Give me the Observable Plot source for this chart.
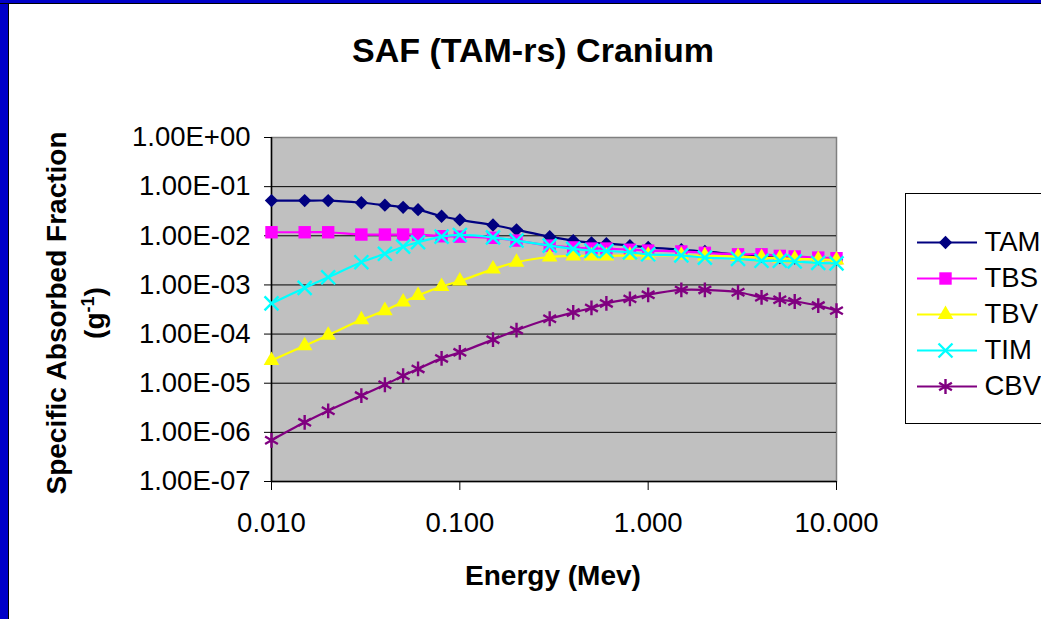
<!DOCTYPE html>
<html>
<head>
<meta charset="utf-8">
<script src="https://cdn.jsdelivr.net/npm/d3@7"></script>
<script src="https://cdn.jsdelivr.net/npm/@observablehq/plot@0.6"></script>
<style>
  html, body { margin: 0; padding: 0; background: #fff; overflow: hidden; }
  #wrap { position: relative; width: 1041px; height: 619px; font-family: "Liberation Sans", Arial, sans-serif; color: #000; overflow: hidden; }
  #bandL { position: absolute; left: 0; top: 0; width: 8px; height: 619px; background: #0000C8; border-right: 1px solid #000; }
  #bandT { position: absolute; left: 0; top: 0; width: 1041px; height: 3px; background: #0000C8; border-bottom: 1px solid #000; }
  #title { position: absolute; left: 533px; top: 50px; transform: translate(-50%, -50%); font-weight: bold; font-size: 34px; white-space: nowrap; }
  #xlabel { position: absolute; left: 553px; top: 576px; transform: translate(-50%, -50%); font-weight: bold; font-size: 28px; white-space: nowrap; }
  #ylabel { position: absolute; left: 76px; top: 313px; transform: translate(-50%, -50%) rotate(-90deg); font-weight: bold; font-size: 28px; white-space: nowrap; text-align: center; line-height: 38px; }
  #ylabel sup { font-size: 18px; line-height: 0; }
  #chart { position: absolute; left: 0; top: 0; width: 1041px; }
  #legend { position: absolute; left: 905px; top: 193px; width: 160px; }
  #legend svg, #chart svg { max-width: none !important; }
</style>
</head>
<body>
<div id="wrap">
  <div id="chart"></div>
  <div id="bandL"></div>
  <div id="bandT"></div>
  <div id="title">SAF (TAM-rs) Cranium</div>
  <div id="xlabel">Energy (Mev)</div>
  <div id="ylabel">Specific Absorbed Fraction<br>(g<sup>-1</sup>)</div>
  <div id="legend"></div>
</div>
<script>
// ---- data ----
const energies = [0.01,0.015,0.02,0.03,0.04,0.05,0.06,0.08,0.1,0.15,0.2,0.3,0.4,0.5,0.6,0.8,1,1.5,2,3,4,5,6,8,10];
const TAM = [0.052,0.052,0.052,0.047,0.042,0.038,0.034,0.025,0.021,0.0166,0.0132,0.0096,0.0080,0.0072,0.0069,0.0063,0.0058,0.0052,0.0048,0.0041,0.0038,0.0036,0.0035,0.0034,0.0033];
const TBS = [0.0118,0.0118,0.0118,0.0106,0.0106,0.0106,0.0106,0.0098,0.0096,0.0091,0.0080,0.0063,0.0058,0.0055,0.0055,0.0052,0.0050,0.0048,0.0045,0.0042,0.0042,0.0039,0.0038,0.0036,0.0035];
const TBV = [2.9e-5,5.8e-5,9.5e-5,1.95e-4,3.0e-4,4.5e-4,6.1e-4,9.3e-4,1.2e-3,2.1e-3,2.9e-3,3.7e-3,3.9e-3,3.9e-3,3.9e-3,4.0e-3,4.0e-3,4.0e-3,3.9e-3,3.8e-3,3.6e-3,3.5e-3,3.4e-3,3.3e-3,3.2e-3];
const TIM = [4.2e-4,8.7e-4,1.43e-3,2.9e-3,4.3e-3,6.0e-3,7.4e-3,9.6e-3,1.04e-2,9.3e-3,8.0e-3,6.3e-3,5.4e-3,5.0e-3,4.9e-3,4.6e-3,4.2e-3,4.0e-3,3.6e-3,3.4e-3,3.1e-3,3.1e-3,3.0e-3,2.8e-3,2.75e-3];
const CBV = [6.9e-7,1.6e-6,2.75e-6,5.6e-6,9.3e-6,1.42e-5,1.95e-5,3.2e-5,4.25e-5,7.7e-5,1.2e-4,2.05e-4,2.75e-4,3.4e-4,4.2e-4,5.2e-4,6.3e-4,7.9e-4,7.9e-4,7.1e-4,5.6e-4,5.0e-4,4.6e-4,3.8e-4,3.0e-4];

const seriesNames = ["TAM","TBS","TBV","TIM","CBV"];
const seriesValues = [TAM, TBS, TBV, TIM, CBV];
const seriesColors = ["#000080","#FF00FF","#FFFF00","#00FFFF","#800080"];
const seriesSymbols = ["diamond2","square","triangle","times","asterisk"];
const seriesSizes = [6.0, 7.0, 5.8, 6.4, 7.0];

const xTicks = [0.01, 0.1, 1, 10];
const xTickLabels = ["0.010","0.100","1.000","10.000"];
const yTicks = [1, 1e-1, 1e-2, 1e-3, 1e-4, 1e-5, 1e-6, 1e-7];
const yTickLabels = ["1.00E+00","1.00E-01","1.00E-02","1.00E-03","1.00E-04","1.00E-05","1.00E-06","1.00E-07"];

// ---- build ----
const FONT = "'Liberation Sans', Arial, sans-serif";
const filled = s => s === "diamond2" || s === "square" || s === "triangle";
const labelFor = (ticks, labels) => d => labels[ticks.findIndex(t => Math.abs(Math.log10(t) - Math.log10(d)) < 1e-6)];

const seriesMarks = [];
seriesNames.forEach((name, k) => {
  const rows = energies.map((e, i) => ({energy: e, value: seriesValues[k][i], series: name}));
  seriesMarks.push(Plot.line(rows, {x: "energy", y: "value", stroke: seriesColors[k], strokeWidth: 2.2, curve: "catmull-rom"}));
  if (filled(seriesSymbols[k])) {
    seriesMarks.push(Plot.dot(rows, {x: "energy", y: "value", symbol: seriesSymbols[k], r: seriesSizes[k], fill: seriesColors[k], stroke: "none"}));
  } else {
    seriesMarks.push(Plot.dot(rows, {x: "energy", y: "value", symbol: seriesSymbols[k], r: seriesSizes[k], stroke: seriesColors[k], strokeWidth: 2.4, fill: "none"}));
  }
});

const chart = Plot.plot({
  width: 1041, height: 619,
  marginLeft: 271, marginRight: 205, marginTop: 137, marginBottom: 138,
  style: {background: "transparent", fontFamily: FONT, fontSize: "27.5px", color: "#000", overflow: "visible"},
  x: {type: "log", domain: [0.01, 10]},
  y: {type: "log", domain: [1e-7, 1]},
  marks: [
    Plot.frame({fill: "#C0C0C0", stroke: "#808080", strokeWidth: 1.5}),
    Plot.ruleY(yTicks.slice(1, -1), {stroke: "#000", strokeWidth: 1}),
    Plot.ruleX([0.01], {stroke: "#000", strokeWidth: 1.5}),
    Plot.ruleY([1e-7], {stroke: "#000", strokeWidth: 1.5}),
    Plot.axisY({ticks: yTicks, tickFormat: labelFor(yTicks, yTickLabels), tickSize: 7, tickPadding: 14, label: null, fontSize: 27.5}),
    Plot.axisX({ticks: xTicks, tickFormat: labelFor(xTicks, xTickLabels), tickSize: 9, tickPadding: 22, label: null, fontSize: 27.5}),
    ...seriesMarks
  ]
});
document.getElementById("chart").appendChild(chart);

// ---- legend ----
const legendRows = seriesNames.map((name, k) => ({name, color: seriesColors[k], symbol: seriesSymbols[k], r: seriesSizes[k], filled: filled(seriesSymbols[k])}));
const legend = Plot.plot({
  width: 145, height: 229,
  margin: 0,
  style: {background: "#fff", fontFamily: FONT, fontSize: "27.5px", color: "#000", overflow: "visible"},
  x: {domain: [0, 1], axis: null},
  y: {type: "point", domain: seriesNames, range: [29, 211], axis: null},
  r: {type: "identity"},
  marks: [
    Plot.ruleY(legendRows, {y: "name", stroke: "color", strokeWidth: 2.2, insetLeft: 11, insetRight: 74}),
    Plot.dot(legendRows.filter(d => d.filled), {y: "name", frameAnchor: "left", dx: 39, symbol: "symbol", r: "r", fill: "color", stroke: "none"}),
    Plot.dot(legendRows.filter(d => !d.filled), {y: "name", frameAnchor: "left", dx: 39, symbol: "symbol", r: "r", stroke: "color", strokeWidth: 2.4, fill: "none"}),
    Plot.text(legendRows, {y: "name", text: "name", frameAnchor: "left", dx: 78, textAnchor: "start", fill: "#000", fontSize: 27.5})
  ]
});
legend.style.border = "1px solid #000";
legend.style.display = "block";
legend.style.maxWidth = "none";
legend.style.width = "145px";
legend.style.height = "229px";
document.getElementById("legend").appendChild(legend);
</script>
</body>
</html>
